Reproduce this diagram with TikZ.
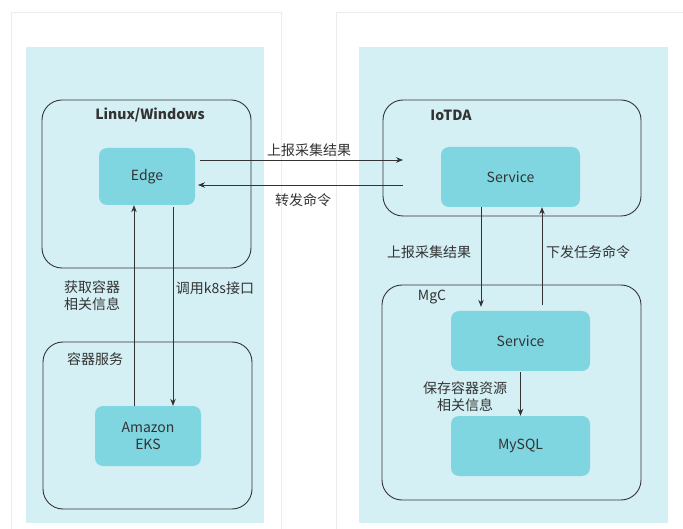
\documentclass[tikz,border=0pt]{standalone}
\usepackage{fontspec}
\setmainfont{Noto Sans CJK SC}
\usetikzlibrary{arrows.meta, positioning}
\definecolor{paleblue}{HTML}{D4F0F4}
\definecolor{svcblue}{HTML}{80D6E0}
\definecolor{txtgray}{HTML}{333333}

\begin{document}
\begin{tikzpicture}[
  x=1pt, y=-1pt,
  font=\fontsize{14}{17}\selectfont,
  text=txtgray,
  arrow/.style={line width=0.7pt, draw=txtgray, -{Stealth[length=7pt,width=5.5pt]}},
  frame/.style={draw=txtgray, line width=0.9pt, rounded corners=20pt}
]
\tikzstyle{svcbox}=[fill=svcblue,rounded corners=8pt,align=center,inner sep=0pt]
\useasboundingbox (0,0) rectangle (683,529);

% panels
\draw[gray!15, fill=white] (11,12) rectangle (281,535);
\draw[gray!15, fill=white] (336,12) rectangle (690,535);
\fill[paleblue] (26,47) rectangle (264,523);
\fill[paleblue] (359,47) rectangle (668,523);

% left side
\draw[frame] (42,100) rectangle (251,268);
\node[font=\fontsize{14}{17}\selectfont\bfseries] (linux) at (150,115) {Linux/Windows};
\node[svcbox, minimum width=96pt, minimum height=57pt] (edge) at (147,176.5) {Edge};

\draw[frame] (43,342) rectangle (252,509);
\node (ctr) at (95,359) {容器服务};
\node[svcbox, minimum width=106pt, minimum height=60pt] (eks) at (148,436) {Amazon\\EKS};

\draw[arrow] ([xshift=-14pt]eks.north) -- ([xshift=-14pt]eks.north |- edge.south);
\draw[arrow] ([xshift=26pt,yshift=-2pt]edge.south) -- ([xshift=26pt]edge.south |- eks.north);
\node[align=left] (getinfo) at (92,296) {获取容器\\相关信息};
\node (callk8s) at (215,288) {调用k8s接口};

% right side
\draw[frame] (383,100) rectangle (641,216);
\node[font=\fontsize{14}{17}\selectfont\bfseries] (iotda) at (451,115) {IoTDA};
\node[svcbox, minimum width=139pt, minimum height=60pt] (svc) at (510.5,177) {Service};

\draw[frame] (382,285) rectangle (641,500);
\node (mgc) at (432,297) {MgC};
\node[svcbox, minimum width=139pt, minimum height=60pt] (mgcsvc) at (520.5,341) {Service};
\node[svcbox, minimum width=139pt, minimum height=60pt] (mysql) at (520.5,446) {MySQL};

\draw[arrow] ([xshift=-29.5pt]svc.south) -- ([xshift=-29.5pt,yshift=4pt]svc.south |- mgcsvc.north);
\draw[arrow] ([xshift=21.5pt,yshift=6pt]mgcsvc.north) -- ([xshift=21.5pt]mgcsvc.north |- svc.south);
\draw[arrow] ([yshift=-1pt]mgcsvc.south) -- (mysql.north);
\node (report2) at (429,252) {上报采集结果};
\node (dispatch) at (588,252) {下发任务命令};
\node[align=center] (save) at (465,396.5) {保存容器资源\\相关信息};

% between the two sides
\coordinate (upA) at (200,160);
\coordinate (upB) at (403,160);
\coordinate (dnA) at (403,185);
\coordinate (dnB) at (198,185);
\draw[arrow] (upA) -- (upB);
\draw[arrow] (dnA) -- (dnB);
\node (report1) at (309,150) {上报采集结果};
\node (forward) at (303,200) {转发命令};

\end{tikzpicture}
\end{document}
